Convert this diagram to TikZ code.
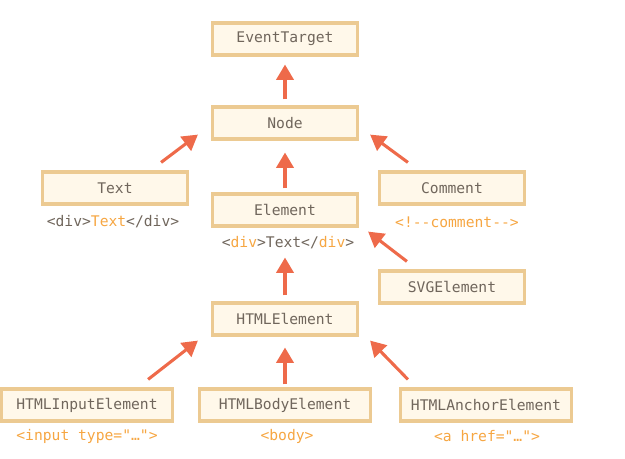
\documentclass[tikz,border=0pt]{standalone}
\usepackage{fontspec}
\newfontfamily\codefont{DejaVu Sans Mono}
\usetikzlibrary{arrows.meta,calc}
\definecolor{boxfill}{RGB}{255,248,234}
\definecolor{boxline}{RGB}{236,202,146}
\definecolor{arrowred}{RGB}{238,106,74}
\definecolor{codegray}{RGB}{112,102,92}
\definecolor{codeorange}{RGB}{246,166,66}
\newcommand\og[1]{\textcolor{codeorange}{#1}}
\newcommand\dd{-\kern0pt-}
\begin{document}
\begin{tikzpicture}[x=0.75pt,y=-0.75pt,
  cls/.style={draw=boxline,fill=boxfill,line width=2.4pt,
    minimum width=145*0.75pt,minimum height=32*0.75pt,inner sep=0pt,
    font=\codefont\fontsize{11pt}{13pt}\selectfont,text=codegray},
  wide/.style={cls,minimum width=171*0.75pt},
  tag/.style={inner sep=0pt,font=\codefont\fontsize{11pt}{13pt}\selectfont,text=codegray},
  arr/.style={draw=arrowred,line width=2.3pt,
    -{Triangle[width=13pt,length=11.5pt]}}]
\useasboundingbox (0,0) rectangle (625,458);

% class boxes
\node[cls] (et) at (285,39) {EventTarget};
\node[cls] (nd) at (285,123) {Node};
\node[cls] (tx) at (115,188) {Text};
\node[cls] (el) at (285,210) {Element};
\node[cls] (cm) at (452,188) {Comment};
\node[cls] (svg) at (452,287) {SVGElement};
\node[cls] (he) at (285,319) {HTMLElement};
\node[wide] (hin) at (87,405) {HTMLInputElement};
\node[wide] (hbo) at (285,405) {HTMLBodyElement};
\node[wide] (han) at (486,405) {HTMLAnchorElement};

% example markup below the boxes
\node[tag] (txs) at (113,222) {<div>\og{Text}</div>};
\node[tag] (els) at (288,243) {<\og{div}>Text</\og{div}>};
\node[tag,text=codeorange] (cms) at (457,222) {<!\dd comment\dd>};
\node[tag,text=codeorange] (hins) at (87,436) {<input type="…">};
\node[tag,text=codeorange] (hbos) at (287,436) {<body>};
\node[tag,text=codeorange] (hans) at (487,436) {<a href="…">};

% inheritance arrows
\draw[arr] ($(nd.north)+(0,-6)$) -- ($(et.south)+(0,8)$);
\draw[arr] ($(el.north)+(0,-4)$) -- ($(nd.south)+(0,12)$);
\draw[arr] ($(tx.north east)+(-28,-8)$) -- ($(nd.south west)+(-13,-6)$);
\draw[arr] ($(cm.north west)+(30,-8)$) -- ($(nd.south east)+(11,-6)$);
\draw[arr] ($(he.north)+(0,-6)$) -- ($(el.south)+(0,30)$);
\draw[arr] ($(svg.north west)+(29,-8)$) -- ($(el.south east)+(9,4)$);
\draw[arr] ($(hin.north east)+(-26,-8)$) -- ($(he.south west)+(-13,4)$);
\draw[arr] ($(hbo.north)+(0,-3)$) -- ($(he.south)+(0,11)$);
\draw[arr] ($(han.north west)+(9,-8)$) -- ($(he.south east)+(11,4)$);
\end{tikzpicture}
\end{document}
